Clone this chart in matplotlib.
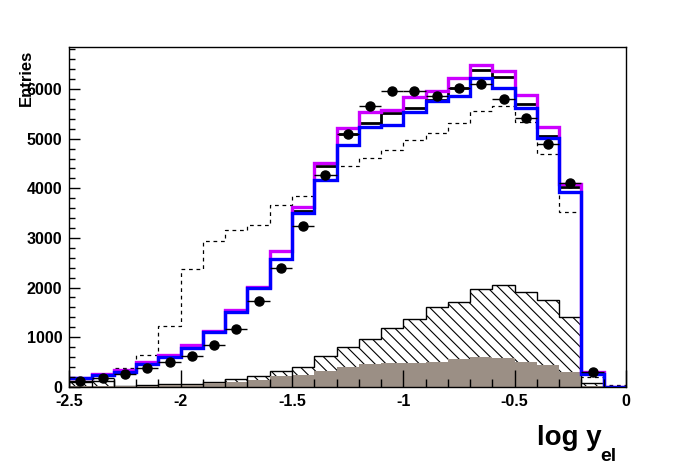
import numpy as np
import matplotlib.pyplot as plt

plt.rcParams['font.family'] = ['Liberation Sans', 'DejaVu Sans']
plt.rcParams['hatch.linewidth'] = 0.8

# histogram binning: 25 bins of width 0.1 from -2.5 to 0
x_lo, x_hi, n_bins = -2.5, 0.0, 25
edges = np.linspace(x_lo, x_hi, n_bins + 1)
centers = 0.5 * (edges[:-1] + edges[1:])

# MC / data values
blue = [180, 240, 305, 460, 608, 790, 1105, 1505, 2000, 2576, 3508, 4167, 4865,
        5245, 5284, 5544, 5754, 5867, 6230, 6022, 5625, 5008, 3932, 250, 0]
magenta = [185, 265, 340, 500, 646, 845, 1130, 1545, 2011, 2728, 3623, 4510, 5224,
           5541, 5579, 5847, 5968, 6224, 6492, 6371, 5875, 5230, 4081, 290, 0]
black = [182, 255, 325, 480, 628, 820, 1129, 1525, 2004, 2740, 3542, 4450, 5089,
         5323, 5524, 5620, 5780, 6028, 6385, 6250, 5706, 5060, 4026, 270, 0]
dashed = [85, 110, 370, 639, 1224, 2368, 2933, 3155, 3256, 3655, 3855, 4440, 4440,
          4620, 4765, 4974, 5108, 5310, 5558, 5653, 5337, 4685, 3516, 200, 30]
hatched = [100, 118, 20, 32, 48, 55, 101, 160, 222, 310, 404, 610, 808,
           970, 1193, 1371, 1599, 1700, 1962, 2056, 1902, 1741, 1405, 70, 0]
brown = [5, 5, 10, 20, 30, 40, 68, 100, 135, 212, 232, 323, 391,
         465, 471, 484, 497, 551, 605, 578, 490, 437, 302, 5, 0]
data = [125, 172, 255, 372, 494, 615, 832, 1170, 1738, 2387, 3241, 4263, 5087,
        5656, 5955, 5955, 5854, 6016, 6103, 5794, 5423, 4887, 4101, 290]

fig = plt.figure(figsize=(6.96, 4.72), dpi=100)
ax = fig.add_axes([0.0996, 0.1807, 0.7998, 0.7191])

ax.stairs(dashed, edges, baseline=None, color='black', lw=0.9, ls=(0, (3, 3)))
ax.stairs(hatched, edges, fill=True, facecolor='white', edgecolor='black',
          hatch='\\\\\\', lw=1.0)
ax.stairs(brown, edges, fill=True, facecolor='#9b8f85', edgecolor='none')
ax.stairs(black, edges, baseline=None, color='black', lw=2.0)
ax.stairs(magenta, edges, baseline=None, color='#cc00ff', lw=2.4)
ax.stairs(blue, edges, baseline=None, color='#0000ff', lw=2.4)

ax.errorbar(centers[:len(data)], data, xerr=0.05, fmt='o', color='black',
            ms=6.5, elinewidth=1.0, capsize=0)

ax.set_xlim(x_lo, x_hi)
ax.set_ylim(0, 6843)
ax.set_xticks(np.arange(-2.5, 0.01, 0.5))
ax.set_xticklabels(['-2.5', '-2', '-1.5', '-1', '-0.5', '0'])
ax.set_xticks(np.arange(-2.5, 0.01, 0.1), minor=True)
ax.set_yticks(np.arange(0, 6001, 1000))
ax.set_yticks(np.arange(0, 6801, 200), minor=True)
ax.tick_params(axis='both', which='both', direction='in', top=False, right=False)
ax.tick_params(axis='y', which='major', length=8, width=1, pad=5)
ax.tick_params(axis='y', which='minor', length=4, width=1)
ax.tick_params(axis='x', which='major', length=12, width=1, pad=5)
ax.tick_params(axis='x', which='minor', length=6, width=1)
for lab in ax.get_xticklabels() + ax.get_yticklabels():
    lab.set_fontweight('bold')
    lab.set_fontsize(11.5)
for sp in ax.spines.values():
    sp.set_linewidth(1.0)

fig.text(26 / 696, 1 - 78 / 472, 'Entries', rotation=90, ha='center', va='center',
         fontsize=12, fontweight='bold')
fig.text(537 / 696, 1 - 445 / 472, 'log y', ha='left', va='baseline',
         fontsize=20, fontweight='bold')
fig.text(600 / 696, 1 - 461 / 472, 'el', ha='left', va='baseline',
         fontsize=14, fontweight='bold')

fig.savefig('out.png', dpi=100)
